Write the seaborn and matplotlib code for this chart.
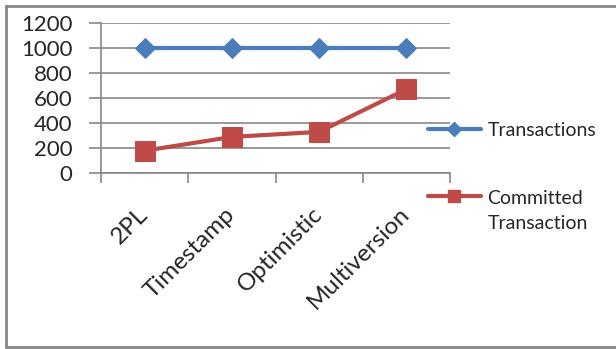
import matplotlib
matplotlib.use("Agg")
import matplotlib.pyplot as plt
import matplotlib.transforms as mtransforms
from matplotlib.lines import Line2D
import numpy as np
import seaborn as sns
import pandas as pd

categories = ["2PL", "Timestamp", "Optimistic", "Multiversion"]
transactions = [1000, 1000, 1000, 1000]
committed = [180, 290, 330, 670]
series_names = ["Transactions", "Committed\nTransaction"]
y_ticks = [0, 200, 400, 600, 800, 1000, 1200]

BLUE = "#4A7EBB"
RED = "#BE4B48"
GRID = "#878787"

sns.set_theme(style="white")
plt.rcParams["font.family"] = ["Lato", "DejaVu Sans"]

df = pd.DataFrame({
    "category": categories * 2,
    "value": transactions + committed,
    "series": [series_names[0]] * 4 + [series_names[1]] * 4,
})
df["x"] = [i + 0.5 for i in range(4)] * 2

fig = plt.figure(figsize=(6.16, 3.49), dpi=100)
ax = fig.add_axes([101 / 616, 1 - 173.3 / 349, (450 - 101) / 616, (173.3 - 22.7) / 349])

sns.lineplot(data=df[df.series == series_names[0]], x="x", y="value", ax=ax,
             color=BLUE, linewidth=3.0, marker="D", markersize=10,
             markeredgecolor=BLUE, legend=False)
sns.lineplot(data=df[df.series == series_names[1]], x="x", y="value", ax=ax,
             color=RED, linewidth=3.0, marker="s", markersize=14,
             markeredgecolor=RED, legend=False)

ax.set_xlim(0, 4)
ax.set_ylim(0, 1200)
ax.set_yticks(y_ticks)
ax.set_yticklabels([str(v) for v in y_ticks], fontsize=16)
ax.yaxis.grid(True, color=GRID, linewidth=1.2)
ax.set_axisbelow(True)
ax.set_xlabel("")
ax.set_ylabel("")

# x ticks on category boundaries, labels at category centres
ax.set_xticks(range(5))
ax.set_xticklabels([])
ax.set_xticks([i + 0.5 for i in range(4)], minor=True)
ax.set_xticklabels(categories, minor=True, fontsize=17.5, rotation=45,
                   ha="right", va="center", rotation_mode="anchor")
offset = mtransforms.ScaledTranslation(7 / 100, 0, fig.dpi_scale_trans)
for lbl in ax.get_xticklabels(minor=True):
    lbl.set_transform(lbl.get_transform() + offset)
ax.tick_params(axis="x", which="minor", length=0, pad=27)
ax.tick_params(axis="x", which="major", length=7, width=1.2, color=GRID, direction="out", bottom=True)
ax.tick_params(axis="y", length=9, width=1.2, color=GRID, direction="out", left=True, pad=11.5)

for side in ["top", "right"]:
    ax.spines[side].set_visible(False)
for side in ["left", "bottom"]:
    ax.spines[side].set_color(GRID)
    ax.spines[side].set_linewidth(1.2)

handles = [
    Line2D([], [], color=BLUE, linewidth=3.0, marker="D", markersize=7),
    Line2D([], [], color=RED, linewidth=3.0, marker="s", markersize=9),
]
leg = fig.legend(handles, series_names, loc="upper left",
                 bbox_to_anchor=(428 / 616, 1 - 122 / 349), frameon=False,
                 fontsize=14, handlelength=2.7, handletextpad=0.36,
                 labelspacing=2.6, borderpad=0, borderaxespad=0)
leg.get_texts()[1].set_linespacing(1.58)
# keep the second handle level with the first line of its two-line label
h2 = leg.legend_handles[1]
h2.set_ydata(np.asarray(h2.get_ydata()) + 10.5)

# outer chart frame (left, top, bottom)
frame_kw = dict(color=GRID, linewidth=2.0, transform=fig.transFigure)
fig.add_artist(Line2D([6 / 616, 6 / 616], [1 - 5.5 / 349, 1 - 346.5 / 349], **frame_kw))
fig.add_artist(Line2D([6 / 616, 1.0], [1 - 5.5 / 349, 1 - 5.5 / 349], **frame_kw))
fig.add_artist(Line2D([6 / 616, 1.0], [1 - 346.5 / 349, 1 - 346.5 / 349], **frame_kw))

fig.savefig("out.png", dpi=100)
